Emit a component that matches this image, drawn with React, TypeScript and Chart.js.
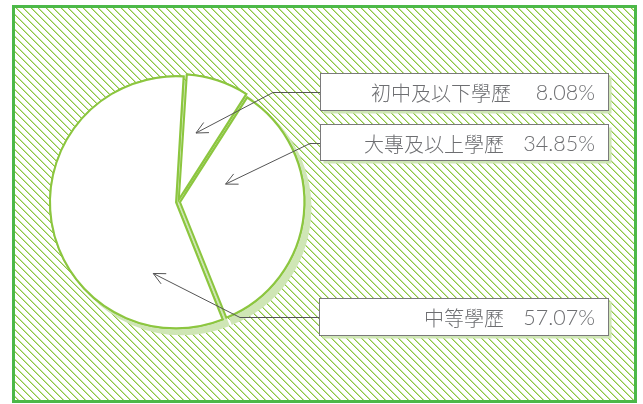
import React, { useEffect, useRef } from 'react';
import { Chart, registerables } from 'chart.js';

Chart.register(...registerables);

// ---- data ----
const categories = ['初中及以下學歷', '大專及以上學歷', '中等學歷'];
const shares = [8.08, 34.85, 57.07];
const shareLabels = ['8.08%', '34.85%', '57.07%'];

// ---- layout / style ----
const W = 643;
const H = 404;
const CX = 178;
const FRAME = { x: 13.5, y: 6.5, w: 622, h: 395 };
const BOXES = [
  { x: 320.5, y: 73.5, w: 288, h: 37, elbowX: 273, tipAngle: -75.4, tipFrac: 0.575, labelRight: 511 },
  { x: 320.5, y: 124.5, w: 288, h: 36, elbowX: 310, tipAngle: -20.6, tipFrac: 0.41, labelRight: 504 },
  { x: 319.5, y: 298.5, w: 289, h: 37, elbowX: 240, tipAngle: 109.1, tipFrac: 0.61, labelRight: 504 },
];
const TEXT_RIGHT = 595;
const LABEL_FONT = '300 20px "Noto Sans CJK TC", sans-serif';
const PCT_FONT = '300 21.5px Lato, "Noto Sans", sans-serif';
const SHADOW = '#cfe6b5';
const HATCH = '#8cc63f';
const HATCH_SOFT = '#c6e3a0';
const HATCH_PERIOD = 7.5;

const decor = {
  id: 'decor',
  beforeDraw(chart: any) {
    const ctx = chart.ctx as CanvasRenderingContext2D;
    ctx.save();
    ctx.fillStyle = '#ffffff';
    ctx.fillRect(0, 0, W, H);
    const x0 = Math.ceil(FRAME.x + 1.5);
    const x1 = Math.floor(FRAME.x + FRAME.w - 1.5);
    const y0 = Math.ceil(FRAME.y + 1.5);
    const y1 = Math.floor(FRAME.y + FRAME.h - 1.5);
    for (let y = y0; y < y1; y++) {
      for (let x = x0; x < x1; x++) {
        let d = (x - y) % HATCH_PERIOD;
        if (d < 0) d += HATCH_PERIOD;
        if (d < 1) {
          ctx.fillStyle = HATCH;
          ctx.fillRect(x, y, 1, 1);
        } else if (d < 2) {
          ctx.fillStyle = HATCH_SOFT;
          ctx.fillRect(x, y, 1, 1);
        }
      }
    }
    ctx.restore();

    ctx.save();
    ctx.strokeStyle = '#4cb848';
    ctx.lineWidth = 3;
    ctx.strokeRect(FRAME.x, FRAME.y, FRAME.w, FRAME.h);
    ctx.restore();
  },
  beforeDatasetsDraw(chart: any) {
    const ctx = chart.ctx as CanvasRenderingContext2D;
    const meta = chart.getDatasetMeta(0);
    ctx.save();
    ctx.shadowColor = SHADOW;
    ctx.shadowOffsetX = 6;
    ctx.shadowOffsetY = 6;
    ctx.shadowBlur = 0;
    meta.data.forEach((a: any) => a.draw(ctx));
    ctx.restore();
  },
  afterDatasetsDraw(chart: any) {
    const ctx = chart.ctx as CanvasRenderingContext2D;
    const meta = chart.getDatasetMeta(0);
    BOXES.forEach((b, i) => {
      const arc = meta.data[i] as any;
      const R = arc.outerRadius;
      const ang = (b.tipAngle * Math.PI) / 180;
      const tx = arc.x + Math.cos(ang) * R * b.tipFrac;
      const ty = arc.y + Math.sin(ang) * R * b.tipFrac;
      const my = Math.round(b.y + b.h / 2) + 0.5;

      // leader line
      ctx.save();
      ctx.strokeStyle = '#555555';
      ctx.lineWidth = 1;
      ctx.beginPath();
      ctx.moveTo(b.x, my);
      ctx.lineTo(b.elbowX, my);
      ctx.lineTo(tx, ty);
      ctx.stroke();
      const dir = Math.atan2(ty - my, tx - b.elbowX);
      const L = 13;
      const spread = (26 * Math.PI) / 180;
      ctx.beginPath();
      ctx.moveTo(tx - Math.cos(dir - spread) * L, ty - Math.sin(dir - spread) * L);
      ctx.lineTo(tx, ty);
      ctx.lineTo(tx - Math.cos(dir + spread) * L, ty - Math.sin(dir + spread) * L);
      ctx.stroke();
      ctx.restore();

      // box
      ctx.save();
      ctx.fillStyle = SHADOW;
      ctx.fillRect(b.x + 3, b.y + 3, b.w, b.h);
      ctx.fillStyle = '#ffffff';
      ctx.fillRect(b.x, b.y, b.w, b.h);
      ctx.strokeStyle = '#7a7a7a';
      ctx.lineWidth = 1;
      ctx.strokeRect(b.x, b.y, b.w, b.h);

      ctx.fillStyle = '#6d6e71';
      ctx.textAlign = 'right';
      ctx.textBaseline = 'middle';
      ctx.font = PCT_FONT;
      ctx.fillText(shareLabels[i], TEXT_RIGHT, my + 1);
      ctx.font = LABEL_FONT;
      ctx.fillText(categories[i], b.labelRight, my + 1);
      ctx.restore();
    });
  },
};

export default function App() {
  const ref = useRef<HTMLCanvasElement | null>(null);
  useEffect(() => {
    if (!ref.current) return;
    const chart = new Chart(ref.current, {
      type: 'pie',
      data: {
        labels: categories,
        datasets: [
          {
            data: shares,
            backgroundColor: '#ffffff',
            borderColor: '#8cc63f',
            borderWidth: 2,
            borderJoinStyle: 'miter',
            offset: [10, 8, 8],
          } as any,
        ],
      },
      options: {
        responsive: false,
        animation: false,
        rotation: 3.6,
        radius: 124,
        events: [],
        layout: { padding: { left: 0, right: W - 2 * CX, top: 0, bottom: 0 } },
        plugins: { legend: { display: false }, tooltip: { enabled: false } },
      } as any,
      plugins: [decor],
    });
    return () => chart.destroy();
  }, []);
  return (
    <div style={{ position: 'fixed', left: 0, top: 0, width: W, height: H }}>
      <canvas ref={ref} width={W} height={H} style={{ display: 'block' }} />
    </div>
  );
}
